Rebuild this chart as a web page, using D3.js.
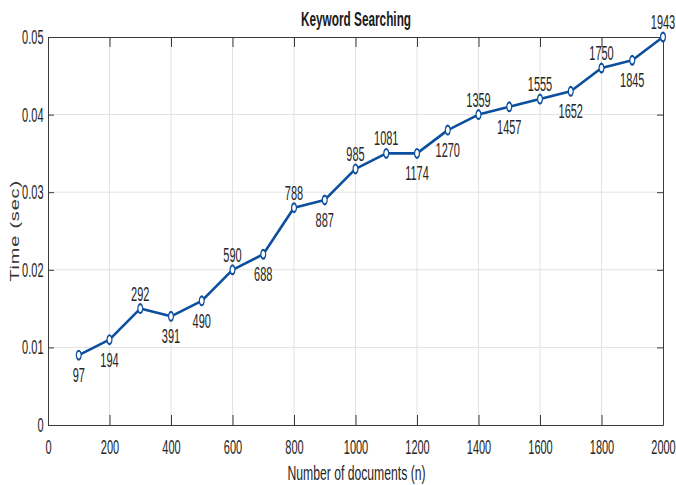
<!DOCTYPE html>
<html>
<head>
<meta charset="utf-8">
<script src="https://cdn.jsdelivr.net/npm/d3@7/dist/d3.min.js"></script>
<style>
  html, body { margin: 0; padding: 0; background: #fff; }
  svg { display: block; }
  text { font-family: "Liberation Sans", Arial, Helvetica, sans-serif; }
</style>
</head>
<body>
<svg id="chart" width="676" height="485"></svg>
<script>
const xValues = [100,200,300,400,500,600,700,800,900,1000,1100,1200,1300,1400,1500,1600,1700,1800,1900,2000];
const timeValues = [0.009,0.011,0.015,0.014,0.016,0.020,0.022,0.028,0.029,0.033,0.035,0.035,0.038,0.040,0.041,0.042,0.043,0.046,0.047,0.050];
const pointLabels = ["97","194","292","391","490","590","688","788","887","985","1081","1174","1270","1359","1457","1555","1652","1750","1845","1943"];
const labelAbove = [false,false,true,false,false,true,false,true,false,true,true,false,false,true,false,true,false,true,false,true];
const xTicks = [0,200,400,600,800,1000,1200,1400,1600,1800,2000];
const yTicks = [0,0.01,0.02,0.03,0.04,0.05];

const SX = 0.55;          // horizontal squeeze of the reference's glyphs
const FS = 20;
const svg = d3.select("#chart");
const L = 48, R = 663, T = 37, B = 425;
const x = d3.scaleLinear().domain([0, 2000]).range([L, R]);
const y = d3.scaleLinear().domain([0, 0.05]).range([B, T]);

// grid
const grid = svg.append("g");
grid.selectAll(".vg").data(xTicks.slice(1, -1)).enter().append("line")
  .attr("x1", d => x(d)).attr("x2", d => x(d)).attr("y1", T).attr("y2", B)
  .attr("stroke", "#e2e2e2").attr("stroke-width", 1);
grid.selectAll(".hg").data(yTicks.slice(1, -1)).enter().append("line")
  .attr("x1", L).attr("x2", R).attr("y1", d => y(d)).attr("y2", d => y(d))
  .attr("stroke", "#e2e2e2").attr("stroke-width", 1);

function squeezeTicks(g) {
  g.selectAll(".tick text").each(function () {
    const t = d3.select(this);
    const xv = +(t.attr("x") || 0);
    t.attr("x", xv / SX).attr("transform", `scale(${SX},1)`)
     .attr("font-size", FS).attr("fill", "#262626");
  });
}
function styleAxis(g) {
  g.select(".domain").attr("stroke", "#3a3a3a").attr("stroke-width", 1);
  g.selectAll(".tick line").attr("stroke", "#3a3a3a");
}

const fmtY = d => d === 0 ? "0" : d3.format(".2f")(d);
const xAxis = d3.axisBottom(x).tickValues(xTicks).tickFormat(d3.format("d")).tickSizeInner(-10).tickSizeOuter(0).tickPadding(15);
const yAxis = d3.axisLeft(y).tickValues(yTicks).tickFormat(fmtY).tickSizeInner(-6).tickSizeOuter(0).tickPadding(4.5);
const xTop = d3.axisTop(x).tickValues(xTicks).tickFormat("").tickSizeInner(-10).tickSizeOuter(0);
const yRight = d3.axisRight(y).tickValues(yTicks).tickFormat("").tickSizeInner(-6).tickSizeOuter(0);

svg.append("g").attr("transform", `translate(0,${B})`).call(xAxis).call(styleAxis).call(squeezeTicks);
svg.append("g").attr("transform", `translate(${L},0)`).call(yAxis).call(styleAxis).call(squeezeTicks);
svg.append("g").attr("transform", `translate(0,${T})`).call(xTop).call(styleAxis);
svg.append("g").attr("transform", `translate(${R},0)`).call(yRight).call(styleAxis);

// line
const pts = xValues.map((v, i) => ({ x: v, y: timeValues[i], label: pointLabels[i], above: labelAbove[i] }));
const lineColor = "#0c4f9e";
svg.append("path").datum(pts)
  .attr("fill", "none").attr("stroke", lineColor).attr("stroke-width", 2.6)
  .attr("stroke-linejoin", "round")
  .attr("d", d3.line().x(d => x(d.x)).y(d => y(d.y)));

svg.selectAll(".mk").data(pts).enter().append("circle")
  .attr("transform", d => `translate(${x(d.x)},${y(d.y)}) scale(${SX},1)`)
  .attr("r", 4.4)
  .attr("fill", "#fff").attr("stroke", lineColor).attr("stroke-width", 2.2);

svg.selectAll(".lb").data(pts).enter().append("text")
  .attr("transform", d => `translate(${x(d.x)},${y(d.y) + (d.above ? -8 : 27)}) scale(${SX},1)`)
  .attr("text-anchor", "middle").attr("font-size", FS).attr("fill", "#262626")
  .text(d => d.label);

// title
svg.append("text")
  .attr("transform", `translate(356,26) scale(0.59,1)`)
  .attr("text-anchor", "middle")
  .attr("font-size", 20).attr("font-weight", "bold").attr("fill", "#1a1a1a")
  .text("Keyword Searching");

// x label
svg.append("text")
  .attr("transform", `translate(356.5,480) scale(0.61,1)`)
  .attr("text-anchor", "middle")
  .attr("font-size", 20).attr("fill", "#262626")
  .text("Number of documents (n)");

// y label (rotated: squeeze applies to glyph thickness)
svg.append("text")
  .attr("transform", `translate(18.5,231) rotate(-90) scale(1,0.66)`)
  .attr("text-anchor", "middle")
  .attr("font-size", 20).attr("letter-spacing", 0.8).attr("fill", "#333")
  .text("Time (sec)");
</script>
</body>
</html>
